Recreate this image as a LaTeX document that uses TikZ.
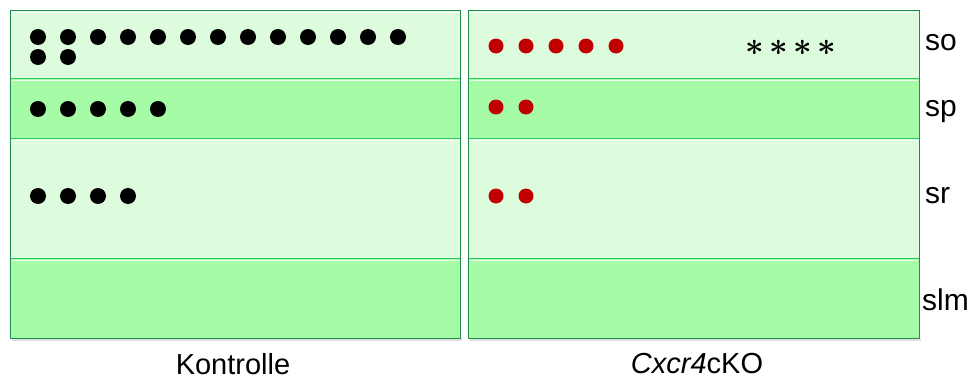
\documentclass[tikz,border=0pt]{standalone}
\usepackage{fontspec}
\setmainfont{Liberation Sans}
\definecolor{paleband}{RGB}{221,252,221}
\definecolor{darkband}{RGB}{166,252,166}
\definecolor{bandedge}{RGB}{40,200,100}
\definecolor{paneledge}{RGB}{30,140,75}
\definecolor{kodot}{RGB}{192,0,0}
\tikzset{
  band/.style={draw=bandedge, line width=0.9pt},
  shine/.style={draw=white, line width=1pt, opacity=0.8},
  ctrldot/.style={circle, fill=black, inner sep=0pt, minimum size=16pt},
  kodotst/.style={circle, fill=kodot, inner sep=0pt, minimum size=15pt},
  layerlbl/.style={font=\fontsize{30}{32}\selectfont, anchor=west, inner sep=0pt},
  grouplbl/.style={font=\fontsize{29}{32}\selectfont, inner sep=0pt},
  siglbl/.style={font=\fontsize{24.88}{28}\selectfont\boldmath, inner sep=0pt},
}
\newcommand{\sigstar}{{\ast}}
\begin{document}
\begin{tikzpicture}[x=1pt,y=-1pt]
\useasboundingbox (0,0) rectangle (975,380);
% two panels, each split into four layers
\foreach \xl/\xr in {10/460, 468/919}{
  % soft shadow
  \fill[black, opacity=0.12] (\xl+2,338) rectangle (\xr+2,341);
  \filldraw[band, fill=paleband] (\xl,10) rectangle (\xr,78);
  \filldraw[band, fill=darkband] (\xl,78) rectangle (\xr,138);
  \filldraw[band, fill=paleband] (\xl,138) rectangle (\xr,258);
  \filldraw[band, fill=darkband] (\xl,258) rectangle (\xr,338);
  \foreach \yt in {10,78,138,258}
    \draw[shine] (\xl+1.5,\yt+2) -- (\xr-1.5,\yt+2);
  \draw[paneledge, line width=0.8pt] (\xl,10) rectangle (\xr,338);
}
% control: stratum oriens
\foreach \i in {0,...,12}
  \node[ctrldot] (co\i) at (38+30*\i,37) {};
\node[ctrldot] (co13) at (38,57) {};
\node[ctrldot] (co14) at (68,57) {};
% control: stratum pyramidale
\foreach \i in {0,...,4}
  \node[ctrldot] (cp\i) at (38+30*\i,109) {};
% control: stratum radiatum
\foreach \i in {0,...,3}
  \node[ctrldot] (cr\i) at (38+30*\i,196) {};
% knockout
\foreach \i in {0,...,4}
  \node[kodotst] (ko\i) at (496+30*\i,46) {};
\foreach \i in {0,1}
  \node[kodotst] (kp\i) at (496+30*\i,107) {};
\foreach \i in {0,1}
  \node[kodotst] (kr\i) at (496+30*\i,196) {};
\node[siglbl] (sig) at (791,48)
  {\scalebox{1.3}{$\sigstar\mkern2.7mu\sigstar\mkern2.7mu\sigstar\mkern2.7mu\sigstar$}};
% layer names
\node[layerlbl] (lso) at (925,43) {so};
\node[layerlbl] (lsp) at (925,112) {sp};
\node[layerlbl] (lsr) at (925,196) {sr};
\node[layerlbl] (lslm) at (922,300) {slm};
% group names
\node[grouplbl] (gctrl) at (233,364) {Kontrolle};
\node[grouplbl] (gko) at (697,364) {\textit{Cxcr4}cKO};
\end{tikzpicture}
\end{document}
